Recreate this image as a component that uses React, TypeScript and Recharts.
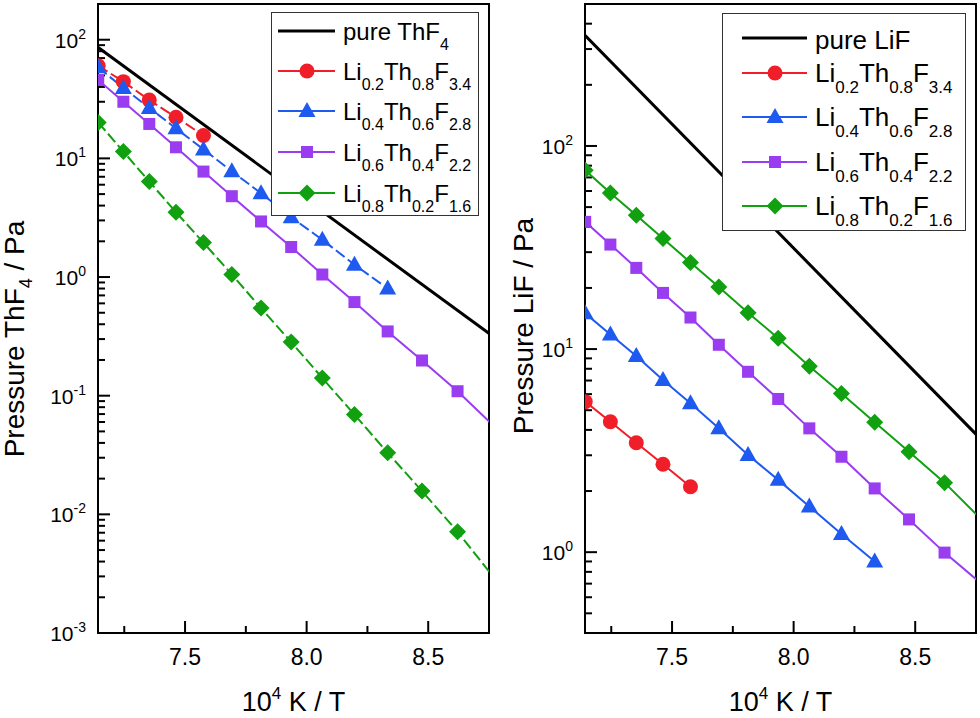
import React from "react";
import { LineChart, Line, XAxis, YAxis, ReferenceArea, ReferenceLine } from "recharts";

// temperatures of the measured points (K); x = 10^4 / T
const kelvin = [1400, 1380, 1360, 1340, 1320, 1300, 1280, 1260, 1240, 1220, 1200, 1180, 1160, 1140];
const pureKelvin = [1400, 1140];

// left panel: ThF4 pressure (Pa)
const thPure = [86, 0.31];
const thLi02 = [60.4, 44.3, 31.0, 22.2, 15.6];
const thLi04 = [58.5, 39.2, 26.6, 17.9, 11.9, 7.78, 5.09, 3.19, 2.06, 1.27, 0.8];
const thLi06 = [45.8, 30.0, 19.5, 12.4, 7.74, 4.8, 2.94, 1.79, 1.05, 0.615, 0.348, 0.198, 0.109, 0.055];
const thLi08 = [20.1, 11.4, 6.38, 3.52, 1.95, 1.05, 0.547, 0.283, 0.141, 0.0693, 0.033, 0.0157, 0.00713, 0.0029];

// right panel: LiF pressure (Pa)
const liPure = [350, 3.58];
const liLi02 = [5.51, 4.39, 3.46, 2.71, 2.1];
const liLi04 = [15.0, 11.8, 9.25, 7.05, 5.41, 4.07, 3.01, 2.27, 1.68, 1.23, 0.9];
const liLi06 = [42.3, 32.7, 25.1, 18.9, 14.3, 10.5, 7.73, 5.68, 4.07, 2.95, 2.06, 1.45, 0.995, 0.7];
const liLi08 = [75.9, 58.7, 45.6, 35.0, 26.7, 20.2, 15.1, 11.3, 8.24, 6.05, 4.36, 3.12, 2.2, 1.45];

// composition labels: Li_a Th_b F_c
const mixes = [
  ["0.2", "0.8", "3.4"],
  ["0.4", "0.6", "2.8"],
  ["0.6", "0.4", "2.2"],
  ["0.8", "0.2", "1.6"],
];
const colors = ["#f01e28", "#1e5af0", "#9a3cf0", "#10a010"];
const shapes = ["circle", "triangle", "square", "diamond"];

const xDomain = [7.142, 8.75];
const xTicks = [7.25, 7.5, 7.75, 8.0, 8.25, 8.5];
const xLabels = [7.5, 8.0, 8.5];
const leftYDomain = [0.001, 200];
const rightYDomain = [0.4, 500];

const FONT = '"Liberation Sans", Arial, sans-serif';

function logTicks(lo: number, hi: number) {
  const out: number[] = [];
  for (let e = -4; e <= 3; e++) {
    for (let m = 1; m <= 9; m++) {
      const v = +(m * Math.pow(10, e)).toPrecision(6);
      if (v >= lo - 1e-12 && v <= hi + 1e-9) out.push(v);
    }
  }
  return out;
}

const isDecade = (v: number) => Math.abs(Math.log10(v) - Math.round(Math.log10(v))) < 1e-6;
const isMajorX = (v: number) => xLabels.some((m) => Math.abs(m - v) < 1e-6);

const pts = (vals: number[], temps = kelvin) => vals.map((v, i) => ({ x: 10000 / temps[i], y: v }));

function Marker({ shape, cx, cy, color }: any) {
  if (shape === "circle") return <circle cx={cx} cy={cy} r={7.5} fill={color} />;
  if (shape === "triangle")
    return <polygon points={`${cx},${cy - 9} ${cx - 8.5},${cy + 6} ${cx + 8.5},${cy + 6}`} fill={color} />;
  if (shape === "square") return <rect x={cx - 6} y={cy - 6} width={12} height={12} fill={color} />;
  return <polygon points={`${cx},${cy - 8.5} ${cx + 8.5},${cy} ${cx},${cy + 8.5} ${cx - 8.5},${cy}`} fill={color} />;
}

const makeDot = (shape: string, color: string) => (props: any) => {
  const { cx, cy, payload, index } = props;
  if (cx == null || payload.x > xDomain[1]) return <g key={index} />;
  return <Marker key={index} shape={shape} cx={cx} cy={cy} color={color} />;
};

// inward tick marks, placed by the chart's own scales through ReferenceLine
const xTickMark = (len: number) => (p: any) => {
  const x = Number(p.x1);
  const yb = Math.max(Number(p.y1), Number(p.y2));
  return <path d={`M${x},${yb}L${x},${yb - len}`} stroke="#000" strokeWidth={2} fill="none" />;
};
const yTickMark = (len: number) => (p: any) => {
  const xl = Math.min(Number(p.x1), Number(p.x2));
  const y = Number(p.y1);
  return <path d={`M${xl},${y}L${xl + len},${y}`} stroke="#000" strokeWidth={2} fill="none" />;
};

function XTick(props: any) {
  const x = Number(props.x);
  const y = Number(props.y);
  const v = props.payload.value;
  if (!isMajorX(v)) return <g />;
  return (
    <text x={x} y={y + 32} textAnchor="middle" fontSize={23} fontFamily={FONT} fill="#000">
      {v.toFixed(1)}
    </text>
  );
}

function YTick(props: any) {
  const x = Number(props.x);
  const y = Number(props.y);
  const v = props.payload.value;
  if (!isDecade(v)) return <g />;
  const e = Math.round(Math.log10(v));
  return (
    <text x={x - 12} y={y + 8} textAnchor="end" fontSize={21} fontFamily={FONT} fill="#000">
      10
      <tspan dy={-9} fontSize={14}>
        {e}
      </tspan>
    </text>
  );
}

function XTitle({ viewBox }: any) {
  const cx = viewBox.x + viewBox.width / 2;
  const by = viewBox.y + 78;
  return (
    <text x={cx} y={by} textAnchor="middle" fontSize={27} fontFamily={FONT} fill="#000">
      10
      <tspan dy={-12} fontSize={17}>
        4
      </tspan>
      <tspan dy={12}> K / T</tspan>
    </text>
  );
}

function YTitle({ bx, cy, name, sub }: any) {
  return (
    <text
      x={bx}
      y={cy}
      transform={`rotate(-90 ${bx} ${cy})`}
      textAnchor="middle"
      fontSize={28}
      fontFamily={FONT}
      fill="#000"
    >
      Pressure {name}
      {sub && (
        <tspan dy={8} fontSize={18}>
          {sub}
        </tspan>
      )}
      <tspan dy={sub ? -8 : 0}> / Pa</tspan>
    </text>
  );
}

function Panel({ pure, series, yDomain, yWidth, margin, dashed, title, titleSub, titleX, titleY }: any) {
  const yTicks = logTicks(yDomain[0], yDomain[1]);
  return (
    <LineChart width={490} height={718} margin={margin}>
      <XAxis
        type="number"
        dataKey="x"
        domain={xDomain}
        ticks={xTicks}
        interval={0}
        allowDataOverflow
        height={85}
        tickSize={0}
        tickMargin={0}
        tickLine={false}
        tick={<XTick />}
        axisLine={{ stroke: "#000", strokeWidth: 2 }}
        label={<XTitle />}
      />
      <YAxis
        type="number"
        dataKey="y"
        scale="log"
        domain={yDomain}
        ticks={yTicks}
        interval={0}
        allowDataOverflow
        width={yWidth}
        tickSize={0}
        tickMargin={0}
        tickLine={false}
        tick={<YTick />}
        axisLine={{ stroke: "#000", strokeWidth: 2 }}
        label={<YTitle bx={titleX} cy={titleY} name={title} sub={titleSub} />}
      />
      <ReferenceArea
        x1={xDomain[0]}
        x2={xDomain[1]}
        y1={yDomain[0]}
        y2={yDomain[1]}
        fill="none"
        fillOpacity={0}
        stroke="#000"
        strokeWidth={2}
        strokeOpacity={1}
      />
      {xTicks.map((v) => (
        <ReferenceLine key={`xt${v}`} x={v} shape={xTickMark(isMajorX(v) ? 12 : 7)} />
      ))}
      {yTicks.map((v) => (
        <ReferenceLine key={`yt${v}`} y={v} shape={yTickMark(isDecade(v) ? 12 : 7)} />
      ))}
      <Line
        data={pts(pure, pureKelvin)}
        dataKey="y"
        stroke="#000"
        strokeWidth={3}
        dot={false}
        activeDot={false}
        isAnimationActive={false}
      />
      {series.map((vals: number[], i: number) => (
        <Line
          key={i}
          data={pts(vals)}
          dataKey="y"
          stroke={colors[i]}
          strokeWidth={2}
          strokeDasharray={dashed[i] ? "11 4" : undefined}
          dot={makeDot(shapes[i], colors[i])}
          activeDot={false}
          isAnimationActive={false}
        />
      ))}
    </LineChart>
  );
}

function LegendBox({ left, top, width, height, pureName, pureSub, lineX, markX, textX, rows, font, subFont, subDy, pureDy }: any) {
  return (
    <svg style={{ position: "absolute", left, top }} width={width} height={height}>
      <rect x={0.5} y={0.5} width={width - 1} height={height - 1} fill="#fff" stroke="#333" strokeWidth={1} />
      <line x1={lineX[0]} x2={lineX[1]} y1={rows[0]} y2={rows[0]} stroke="#000" strokeWidth={3} />
      <text x={textX} y={rows[0] + pureDy} fontSize={font} fontFamily={FONT} fill="#000">
        pure {pureName}
        {pureSub && (
          <tspan dy={subDy} fontSize={subFont}>
            {pureSub}
          </tspan>
        )}
      </text>
      {mixes.map((m, i) => {
        const y = rows[i + 1];
        return (
          <g key={i}>
            <line x1={lineX[0]} x2={lineX[1]} y1={y} y2={y} stroke={colors[i]} strokeWidth={2} />
            <Marker shape={shapes[i]} cx={markX} cy={y} color={colors[i]} />
            <text x={textX} y={y + 9} fontSize={font} fontFamily={FONT} fill="#000">
              Li
              <tspan dy={subDy} fontSize={subFont}>{m[0]}</tspan>
              <tspan dy={-subDy}>Th</tspan>
              <tspan dy={subDy} fontSize={subFont}>{m[1]}</tspan>
              <tspan dy={-subDy}>F</tspan>
              <tspan dy={subDy} fontSize={subFont}>{m[2]}</tspan>
            </text>
          </g>
        );
      })}
    </svg>
  );
}

export default function App() {
  return (
    <div style={{ position: "absolute", left: 0, top: 0, width: 980, height: 718, background: "#fff", fontFamily: FONT }}>
      <div style={{ position: "absolute", left: 0, top: 0 }}>
        <Panel
          pure={thPure}
          series={[thLi02, thLi04, thLi06, thLi08]}
          yDomain={leftYDomain}
          yWidth={98}
          margin={{ top: 4, right: 1, left: 0, bottom: 0 }}
          dashed={[true, true, false, true]}
          title="ThF"
          titleSub="4"
          titleX={24}
          titleY={339}
        />
      </div>
      <div style={{ position: "absolute", left: 490, top: 0 }}>
        <Panel
          pure={liPure}
          series={[liLi02, liLi04, liLi06, liLi08]}
          yDomain={rightYDomain}
          yWidth={95}
          margin={{ top: 4, right: 4, left: 0, bottom: 0 }}
          dashed={[false, false, false, false]}
          title="LiF"
          titleSub=""
          titleX={43}
          titleY={326}
        />
      </div>
      <LegendBox
        left={271}
        top={12}
        width={208}
        height={204}
        pureName="ThF"
        pureSub="4"
        lineX={[7, 64]}
        markX={36}
        textX={72}
        rows={[19, 59, 99, 140, 181]}
        font={24}
        subFont={16}
        subDy={10}
        pureDy={9}
      />
      <LegendBox
        left={722}
        top={13}
        width={244}
        height={218}
        pureName="LiF"
        pureSub=""
        lineX={[20, 85]}
        markX={53}
        textX={93}
        rows={[25, 60, 104, 149, 193]}
        font={26}
        subFont={17}
        subDy={11}
        pureDy={11}
      />
    </div>
  );
}
